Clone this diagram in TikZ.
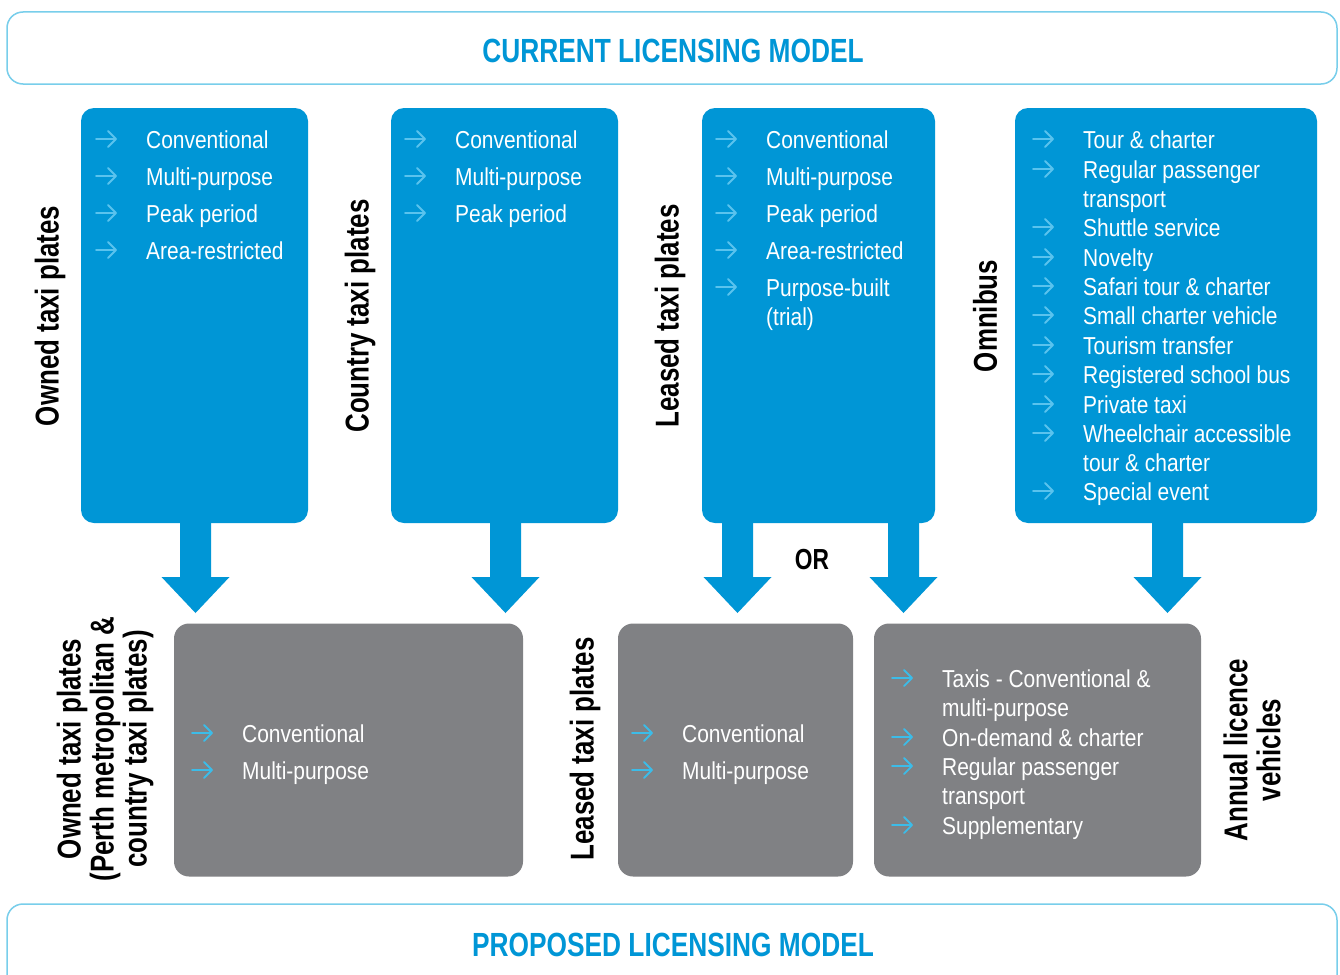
\documentclass[tikz,border=0pt]{standalone}
\usepackage{fontspec}
\setmainfont{Liberation Sans}[FakeStretch=0.855]
\newfontfamily\condb{Liberation Sans}[FakeStretch=0.785]
\definecolor{boxblue}{RGB}{0,150,214}
\definecolor{boxgray}{RGB}{128,129,132}
\definecolor{bannerline}{RGB}{120,206,235}
\definecolor{glyphonblue}{RGB}{90,195,238}
\definecolor{glyphongray}{RGB}{60,188,232}
\tikzset{
  bluebox/.style={rectangle, rounded corners=13pt, fill=boxblue, draw=none, inner sep=0},
  graybox/.style={rectangle, rounded corners=15pt, fill=boxgray, draw=none, inner sep=0},
  banner/.style={rectangle, rounded corners=16pt, draw=bannerline, line width=1.5pt, fill=white, inner sep=0},
  titletext/.style={font=\condb\bfseries\fontsize{33.5}{34}\selectfont, text=boxblue, inner sep=0},
  itm/.style={text=white, font=\fontsize{24.5}{29}\selectfont, inner sep=0},
  lab/.style={font=\condb\bfseries\fontsize{33}{33}\selectfont, rotate=90, align=center, inner sep=0, text=black},
  glyph/.style={line width=1.8pt, line cap=round, line join=round},
}
\newcommand{\li}[5]{%
  \draw[glyph, #5] (#2,#3) -- (#2+20,#3) (#2+12,#3-8) -- (#2+20,#3) -- (#2+12,#3+8);
  \node[itm, anchor=base west] (#1) at (#2+50,#3+9) {#4};}
\newcommand{\lc}[4]{%
  \node[itm, anchor=base west] (#1) at (#2+50,#3+9) {#4};}
\newcommand{\bigdown}[1]{%
  \fill[boxblue] (#1-15.5,518) -- (#1+15.5,518) -- (#1+15.5,577) -- (#1+34,577) -- (#1,613) -- (#1-34,577) -- (#1-15.5,577) -- cycle;}
\begin{document}
\begin{tikzpicture}[x=1pt,y=-1pt]
\useasboundingbox (0,0) rectangle (1340,974);
\fill[white] (0,0) rectangle (1340,974);

% banners
\node[banner, minimum width=1330, minimum height=72] (topban) at (672,48) {};
\node[titletext] (toptitle) at (673,51) {CURRENT LICENSING MODEL};
\node[banner, minimum width=1330, minimum height=120] (botban) at (672,964) {};
\node[titletext] (bottitle) at (673,945) {PROPOSED LICENSING MODEL};

% big arrows
\bigdown{195.5}
\bigdown{505.5}
\bigdown{737.5}
\bigdown{903.5}
\bigdown{1167.5}

% blue boxes
\node[bluebox, minimum width=227, minimum height=415] (B1) at (194.5,315.5) {};
\node[bluebox, minimum width=227, minimum height=415] (B2) at (504.5,315.5) {};
\node[bluebox, minimum width=233, minimum height=415] (B3) at (818.5,315.5) {};
\node[bluebox, minimum width=302, minimum height=415] (B4) at (1166,315.5) {};

% gray boxes
\node[graybox, minimum width=349, minimum height=253] (G1) at (348.5,750) {};
\node[graybox, minimum width=235, minimum height=253] (G2) at (735.5,750) {};
\node[graybox, minimum width=327, minimum height=253] (G3) at (1037.5,750) {};

% box 1 items
\li{b1a}{96}{139}{Conventional}{glyphonblue}
\li{b1b}{96}{176}{Multi-purpose}{glyphonblue}
\li{b1c}{96}{213}{Peak period}{glyphonblue}
\li{b1d}{96}{250}{Area-restricted}{glyphonblue}

% box 2 items
\li{b2a}{405}{139}{Conventional}{glyphonblue}
\li{b2b}{405}{176}{Multi-purpose}{glyphonblue}
\li{b2c}{405}{213}{Peak period}{glyphonblue}

% box 3 items
\li{b3a}{716}{139}{Conventional}{glyphonblue}
\li{b3b}{716}{176}{Multi-purpose}{glyphonblue}
\li{b3c}{716}{213}{Peak period}{glyphonblue}
\li{b3d}{716}{250}{Area-restricted}{glyphonblue}
\li{b3e}{716}{287}{Purpose-built}{glyphonblue}
\lc{b3f}{716}{316}{(trial)}

% box 4 items
\li{b4a}{1033}{139}{Tour \& charter}{glyphonblue}
\li{b4b}{1033}{169}{Regular passenger}{glyphonblue}
\lc{b4c}{1033}{198}{transport}
\li{b4d}{1033}{227}{Shuttle service}{glyphonblue}
\li{b4e}{1033}{257}{Novelty}{glyphonblue}
\li{b4f}{1033}{286}{Safari tour \& charter}{glyphonblue}
\li{b4g}{1033}{315}{Small charter vehicle}{glyphonblue}
\li{b4h}{1033}{345}{Tourism transfer}{glyphonblue}
\li{b4i}{1033}{374}{Registered school bus}{glyphonblue}
\li{b4j}{1033}{404}{Private taxi}{glyphonblue}
\li{b4k}{1033}{433}{Wheelchair accessible}{glyphonblue}
\lc{b4l}{1033}{462}{tour \& charter}
\li{b4m}{1033}{491}{Special event}{glyphonblue}

% gray box items
\li{g1a}{192}{733}{Conventional}{glyphongray}
\li{g1b}{192}{770}{Multi-purpose}{glyphongray}
\li{g2a}{632}{733}{Conventional}{glyphongray}
\li{g2b}{632}{770}{Multi-purpose}{glyphongray}
\li{g3a}{892}{678}{Taxis - Conventional \&}{glyphongray}
\lc{g3b}{892}{707}{multi-purpose}
\li{g3c}{892}{737}{On-demand \& charter}{glyphongray}
\li{g3d}{892}{766}{Regular passenger}{glyphongray}
\lc{g3e}{892}{795}{transport}
\li{g3f}{892}{825}{Supplementary}{glyphongray}

% rotated labels
\node[lab] (l1) at (50,316) {Owned taxi plates};
\node[lab] (l2) at (360,316) {Country taxi plates};
\node[lab] (l3) at (670,316) {Leased taxi plates};
\node[lab] (l4) at (985,316) {Omnibus};
\node[lab] (l5) at (105,749) {Owned taxi plates\\(Perth metropolitan \&\\country taxi plates)};
\node[lab] (l6) at (585,749) {Leased taxi plates};
\node[lab] (l7) at (1252,750) {Annual licence\\vehicles};

\node[font=\condb\bfseries\fontsize{29}{30}\selectfont, inner sep=0] (or) at (812,560) {OR};
\end{tikzpicture}
\end{document}
